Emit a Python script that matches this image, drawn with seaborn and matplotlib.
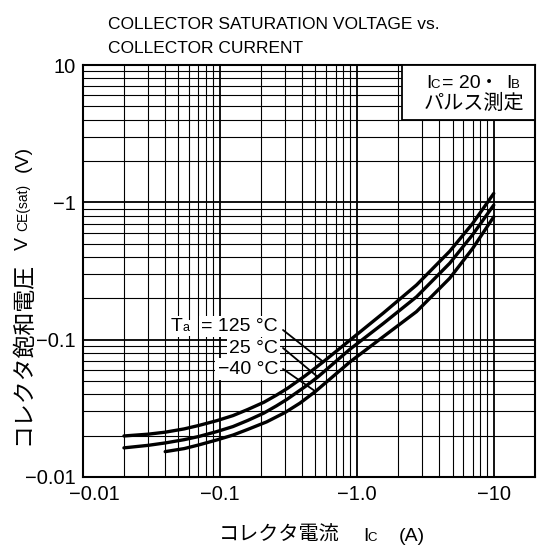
import numpy as np
import pandas as pd
import matplotlib
matplotlib.use("Agg")
import matplotlib.pyplot as plt
import seaborn as sns
from matplotlib.ticker import FixedLocator, LogLocator, NullFormatter
from matplotlib.patches import Rectangle
from matplotlib.transforms import ScaledTranslation

# curve data (Ic and VCE(sat) magnitudes)
temps = ["125", "25", "-40"]
ic_125 = [0.02, 0.03, 0.04, 0.055, 0.07, 0.095, 0.125, 0.16, 0.21, 0.26, 0.31, 0.42,
          0.57, 0.89, 1.56, 2.73, 4.77, 7, 10]
vce_125 = [0.0199, 0.0205, 0.0212, 0.0224, 0.0237, 0.0257, 0.028, 0.031, 0.035, 0.0395,
           0.044, 0.0545, 0.069, 0.099, 0.156, 0.25, 0.44, 0.70, 1.16]
ic_25 = [0.02, 0.03, 0.04, 0.055, 0.07, 0.095, 0.125, 0.16, 0.21, 0.26, 0.31, 0.42,
         0.52, 0.89, 1.56, 2.73, 4.77, 7, 10]
vce_25 = [0.0163, 0.017, 0.0177, 0.0187, 0.0197, 0.0214, 0.0233, 0.0258, 0.0292, 0.033,
          0.0368, 0.0455, 0.0535, 0.085, 0.131, 0.205, 0.36, 0.58, 0.955]
ic_m40 = [0.04, 0.055, 0.07, 0.095, 0.125, 0.16, 0.22, 0.3, 0.385, 0.5, 0.89, 1.56,
          2.73, 4.77, 7, 10]
vce_m40 = [0.0153, 0.0161, 0.0171, 0.0186, 0.0202, 0.0222, 0.0252, 0.0295, 0.0345, 0.042,
           0.0687, 0.105, 0.16, 0.28, 0.46, 0.785]

x_ticks = [0.01, 0.1, 1, 10]
x_tick_labels = ["\u22120.01", "\u22120.1", "\u22121.0", "\u221210"]
y_ticks = [0.01, 0.1, 1, 10]
y_tick_labels = ["\u22120.01", "\u22120.1", "\u22121", "10"]

W, H = 537, 548


def fpx(x, y):
    # reference pixel -> figure fraction
    return x / W, 1 - y / H


sns.set_theme(style="white")
plt.rcParams["font.family"] = ["Liberation Sans", "Noto Sans CJK JP"]
plt.rcParams.update({
    "text.color": "black", "xtick.color": "black", "ytick.color": "black",
    "axes.labelcolor": "black", "axes.edgecolor": "black",
})

df = pd.concat([
    pd.DataFrame({"ic": ic_125, "vce": vce_125, "temp": temps[0]}),
    pd.DataFrame({"ic": ic_25, "vce": vce_25, "temp": temps[1]}),
    pd.DataFrame({"ic": ic_m40, "vce": vce_m40, "temp": temps[2]}),
], ignore_index=True)

fig = plt.figure(figsize=(W / 100, H / 100), dpi=100)
ax = fig.add_axes([82.7 / W, 1 - 477 / H, (535 - 82.7) / W, (477 - 65) / H])
ax.set_xscale("log")
ax.set_yscale("log")

sns.lineplot(
    data=df, x="ic", y="vce", hue="temp",
    palette={t: "black" for t in temps},
    estimator=None, sort=True, legend=False, lw=2.4, ax=ax,
)

ax.set_xlim(0.01, 20)
ax.set_ylim(0.01, 10)
ax.xaxis.set_major_locator(FixedLocator(x_ticks))
ax.yaxis.set_major_locator(FixedLocator(y_ticks))
ax.set_xticklabels(x_tick_labels)
ax.set_yticklabels(y_tick_labels)
for axis in (ax.xaxis, ax.yaxis):
    axis.set_minor_locator(LogLocator(base=10, subs=np.arange(2, 10), numticks=30))
    axis.set_minor_formatter(NullFormatter())
ax.set_xlabel("")
ax.set_ylabel("")
ax.grid(True, which="major", color="black", lw=1.3)
ax.grid(True, which="minor", color="black", lw=0.8)
ax.tick_params(which="both", length=0)
ax.tick_params(axis="x", pad=6, labelsize=14.5)
ax.tick_params(axis="y", pad=5, labelsize=14.5)
for sp in ax.spines.values():
    sp.set_linewidth(1.5)
    sp.set_color("black")

# condition box, top right
ax.add_patch(Rectangle((0.705, 0.867), 0.295, 0.133, transform=ax.transAxes,
                       facecolor="white", edgecolor="black", lw=1.3, zorder=4))
fig.text(*fpx(426, 88), "I", size=14, va="baseline", zorder=6)
fig.text(*fpx(430.5, 88), "C", size=9.5, va="baseline", zorder=6)
fig.text(*fpx(442, 88), "= 20", size=14, va="baseline", zorder=6)
fig.text(*fpx(489, 88), "\u30fb", size=13, va="baseline", ha="center", zorder=6)
fig.text(*fpx(506, 88), "I", size=14, va="baseline", zorder=6)
fig.text(*fpx(510.5, 88), "B", size=9.5, va="baseline", zorder=6)
fig.text(*fpx(474, 103), "パルス測定", size=14.5, va="center", ha="center", zorder=6)

# temperature labels with leader lines
wbox = dict(facecolor="white", edgecolor="none", pad=1.5)
fig.text(*fpx(171, 331), "T", size=14, va="baseline", bbox=wbox, zorder=6)
fig.text(*fpx(182.5, 331), "a", size=9, va="baseline", bbox=wbox, zorder=6)
fig.text(*fpx(278, 331), "= 125 \u00b0C", size=14, va="baseline", ha="right", bbox=wbox, zorder=6)
fig.text(*fpx(278, 353), "25 \u00b0C", size=14, va="baseline", ha="right", bbox=wbox, zorder=6)
fig.text(*fpx(278, 373.5), "\u221240 \u00b0C", size=14, va="baseline", ha="right", bbox=wbox, zorder=6)

leaders = [(ic_125, vce_125, 12, 330), (ic_25, vce_25, 12, 348), (ic_m40, vce_m40, 9, 369)]
for xs, ys, i, ty in leaders:
    ax.annotate("", xy=(xs[i], ys[i]), xytext=(283, H - ty), textcoords="figure pixels",
                arrowprops=dict(arrowstyle="-", color="black", lw=1.3, shrinkA=0, shrinkB=0))

# title
fig.text(*fpx(108, 29), "COLLECTOR SATURATION VOLTAGE vs.", size=12.5, va="baseline")
fig.text(*fpx(108, 53), "COLLECTOR CURRENT", size=12.5, va="baseline")

# x axis label
fig.text(*fpx(219, 541), "コレクタ電流", size=14.5, va="baseline")
fig.text(*fpx(363, 541), "I", size=14, va="baseline")
fig.text(*fpx(367.5, 541), "C", size=9.5, va="baseline")
fig.text(*fpx(399, 541), "(A)", size=14, va="baseline")

# y axis label (rotated)
rot = dict(rotation=90, rotation_mode="anchor", ha="left", va="baseline")
fig.text(*fpx(29, 445), "コレクタ飽和電圧", size=16.5, **rot)
fig.text(*fpx(28, 250), "V", size=14, **rot)
fig.text(*fpx(27, 231), "CE(sat)", size=10, **rot)
fig.text(*fpx(28, 172), "(V)", size=14, **rot)

# the -0.01 label sits a little to the right of its grid line
fig.canvas.draw()
lab0 = ax.get_xticklabels()[0]
lab0.set_transform(lab0.get_transform() + ScaledTranslation(0.12, 0, fig.dpi_scale_trans))

fig.savefig("out.png", dpi=100)
